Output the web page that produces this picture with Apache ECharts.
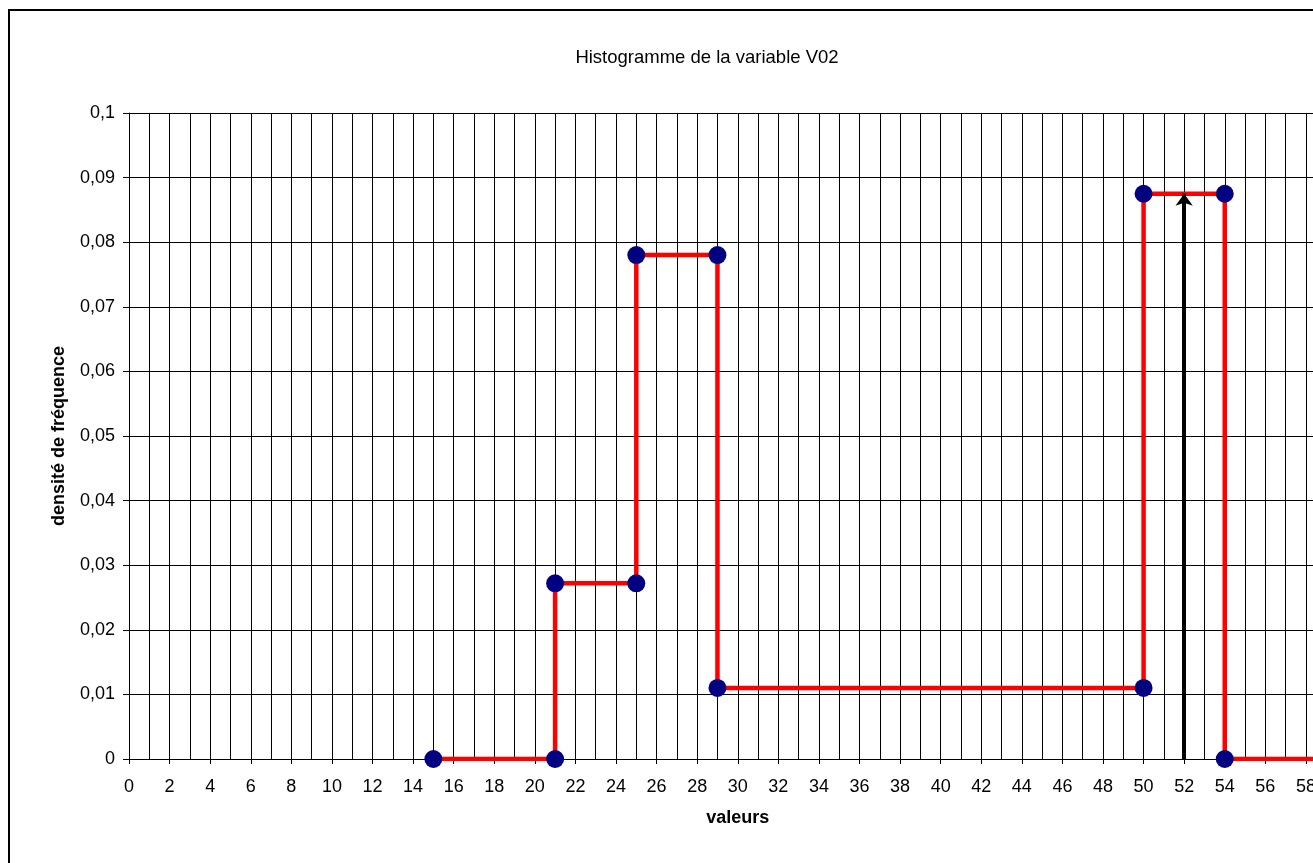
<!DOCTYPE html>
<html>
<head>
<meta charset="utf-8">
<script src="https://cdn.jsdelivr.net/npm/echarts@6/dist/echarts.min.js"></script>
<style>
html,body{margin:0;padding:0;overflow:hidden;background:#fff;}
#chart{width:1400px;height:900px;}
</style>
</head>
<body>
<div id="chart"></div>
<script>
// Histogram outline points (class bounds, frequency density)
var classBounds = [15, 21, 21, 25, 25, 29, 29, 50, 50, 54, 54, 60];
var densities   = [0, 0, 0.0272, 0.0272, 0.078, 0.078, 0.011, 0.011, 0.0875, 0.0875, 0, 0];
// Arrow marker (vertical line at x = 52)
var arrowX = 52;
var arrowTop = 0.0875;
var titleText = 'Histogramme de la variable V02';
var xName = 'valeurs';
var yName = 'densité de fréquence';

var points = classBounds.map(function (x, i) { return [x, densities[i]]; });

var chart = echarts.init(document.getElementById('chart'), null, {renderer: 'canvas'});
var font = 'Liberation Sans, Arial, sans-serif';
var fs = 18;
chart.setOption({
  animation: false,
  backgroundColor: '#fff',
  title: {
    text: titleText,
    left: 702, top: 43, textAlign: 'center',
    textStyle: {fontFamily: font, fontSize: 18.5, fontWeight: 'normal', color: '#000'}
  },
  graphic: [{
    type: 'rect', silent: true,
    shape: {x: 9, y: 10, width: 1380, height: 1000},
    style: {fill: 'none', stroke: '#000', lineWidth: 2}
  }],
  grid: {left: 129, top: 113, width: 1217.5, height: 646, containLabel: false},
  xAxis: {
    type: 'value', min: 0, max: 60, interval: 2,
    name: xName, nameLocation: 'middle', nameGap: 50,
    nameTextStyle: {fontFamily: font, fontSize: fs, fontWeight: 'bold', color: '#000'},
    axisLine: {show: true, lineStyle: {color: '#000', width: 1}},
    axisTick: {show: true, length: 5, lineStyle: {color: '#000'}},
    axisLabel: {fontFamily: font, fontSize: fs, color: '#000', margin: 19},
    splitLine: {show: true, lineStyle: {color: '#000', width: 1}},
    minorTick: {show: false, splitNumber: 2},
    minorSplitLine: {show: true, lineStyle: {color: '#000', width: 1}}
  },
  yAxis: {
    type: 'value', min: 0, max: 0.1, interval: 0.01,
    name: yName, nameLocation: 'middle', nameGap: 61,
    nameTextStyle: {fontFamily: font, fontSize: fs, fontWeight: 'bold', color: '#000'},
    axisLine: {show: true, lineStyle: {color: '#000', width: 1}},
    axisTick: {show: true, length: 6, lineStyle: {color: '#000'}},
    axisLabel: {
      fontFamily: font, fontSize: fs, color: '#000', margin: 14,
      formatter: function (v) { return String(parseFloat(v.toFixed(4))).replace('.', ','); }
    },
    splitLine: {show: true, lineStyle: {color: '#000', width: 1}}
  },
  series: [{
    type: 'line',
    data: points,
    z: 3,
    symbol: 'circle', symbolSize: 18,
    itemStyle: {color: '#000080', borderWidth: 0},
    lineStyle: {color: '#ff0000', width: 4.5},
    silent: true
  }, {
    type: 'line',
    data: [],
    z: 5,
    silent: true,
    markLine: {
      silent: true,
      symbol: ['none', 'arrow'],
      symbolSize: [13, 12],
      label: {show: false},
      lineStyle: {color: '#000', width: 4, type: 'solid'},
      data: [[{coord: [arrowX, 0]}, {coord: [arrowX, arrowTop]}]]
    }
  }]
});
</script>
</body>
</html>
